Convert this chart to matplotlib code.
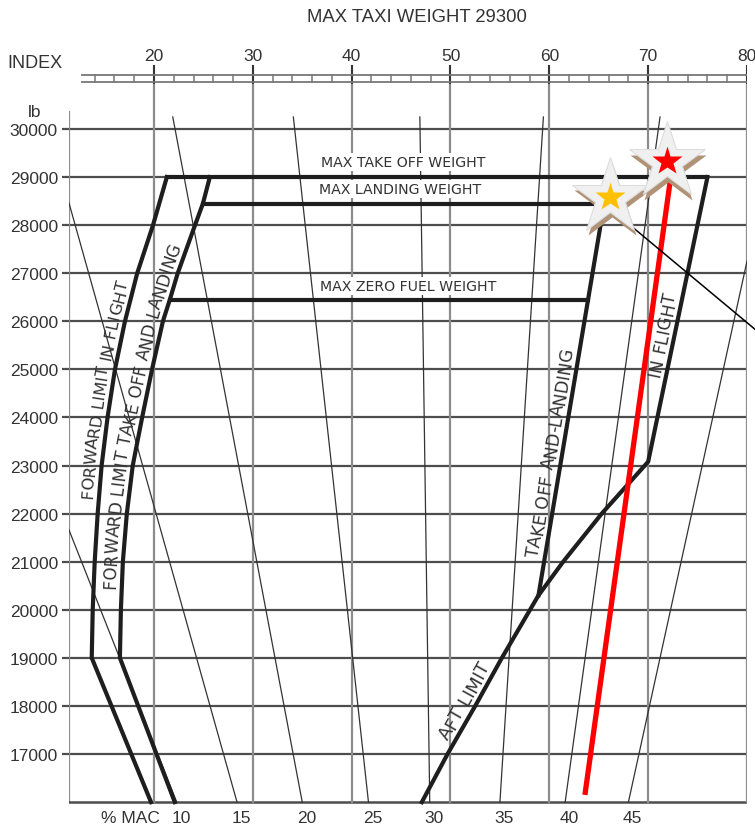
import numpy as np
import matplotlib.pyplot as plt
from matplotlib.font_manager import FontProperties, findfont, get_font

# weight grid (lb) and index grid
weight_ticks = list(range(17000, 30001, 1000))
index_ticks = [20, 30, 40, 50, 60, 70, 80]
ruler_ticks = list(range(14, 80, 2))

# constant %MAC lines, end points as (index, weight)
mac_pct = [10, 15, 20, 25, 30, 35, 40, 45]
mac_top_idx = [11.4, 11.4, 21.9, 34.1, 46.9, 59.4, 71.2, 80.0]
mac_top_wt = [21660, 28460, 30250, 30250, 30250, 30250, 30250, 27250]
mac_bot_idx = [22.3, 28.4, 35.0, 41.7, 47.9, 55.0, 61.6, 68.0]
mac_bot_wt = [16000] * 8

# forward limits
fwd_flight_wt = [16000, 19000, 20000, 21000, 22000, 23000, 24000, 25000, 26000, 27000, 28000, 29000]
fwd_flight_idx = [19.7, 13.7, 13.8, 14.0, 14.3, 14.7, 15.3, 16.05, 17.06, 18.3, 19.9, 21.3]
fwd_tol_wt = [16000, 19000, 20000, 21000, 22000, 23000, 24000, 25000, 26000, 26450, 27000, 28000, 28450, 29000]
fwd_tol_idx = [22.1, 16.55, 16.65, 16.85, 17.25, 17.85, 18.8, 19.8, 20.9, 21.6, 22.4, 24.15, 24.95, 25.65]

# aft limits
aft_flight_wt = [29000, 23080, 22000, 21000, 20300, 19000, 18000, 17000, 16000]
aft_flight_idx = [76.0, 70.0, 65.3, 61.4, 58.9, 55.2, 52.5, 49.7, 47.1]
aft_tol_wt = [28450, 20300]
aft_tol_idx = [65.55, 58.9]

mtow = 29000
mlw = 28450
mzfw = 26450

# loading line and points
load_idx = [63.6, 72.4]
load_wt = [16150, 29170]
taxi_pt = (71.9, 29330)
landing_pt = (66.15, 28590)

fig = plt.figure(figsize=(7.55, 8.29), dpi=100)
ax = fig.add_axes([69 / 755, 0, 678 / 755, 1])
ax.set_xlim(11.4, 80.0)
ax.set_ylim(15462, 32704)
for s in ax.spines.values():
    s.set_visible(False)

num_font = 'Liberation Sans'
lab_font = 'DejaVu Sans'
txt_col = '#333333'


def curved_label(xs, ys, text, center_wt, size, gap=6.5, lo=None):
    """Write text letter by letter along a limit line, baseline on its left side."""
    pts = ax.transData.transform(np.column_stack([xs, ys]))
    pts = pts[np.argsort(pts[:, 1])]
    if lo is not None:
        pts = pts[pts[:, 1] >= ax.transData.transform((0, lo))[1] - 0.1]
    seg = np.diff(pts, axis=0)
    arc = np.concatenate([[0], np.cumsum(np.hypot(seg[:, 0], seg[:, 1]))])

    def at(sv):
        return np.array([np.interp(sv, arc, pts[:, 0]), np.interp(sv, arc, pts[:, 1])])

    cy = ax.transData.transform((0, center_wt))[1]
    sc = np.interp(cy, pts[:, 1], arc)
    fp = FontProperties(family=lab_font, size=size)
    font = get_font(findfont(fp))
    font.set_size(size, fig.dpi)
    adv = [font.load_char(ord(ch)).linearHoriAdvance / 65536 for ch in text]
    pen = sc - sum(adv) / 2
    inv = ax.transData.inverted()
    for ch, a in zip(text, adv):
        sm = pen + a / 2
        d = at(sm + 8) - at(sm - 8)
        d = d / np.hypot(*d)
        q = at(sm) + np.array([-d[1], d[0]]) * gap
        ax.text(*inv.transform(q), ch, rotation=np.degrees(np.arctan2(d[1], d[0])),
                rotation_mode='anchor', ha='center', va='baseline',
                fontproperties=fp, color=txt_col, zorder=4)
        pen += a


# horizontal grid
for w in weight_ticks:
    ax.plot([11.4, 80.0], [w, w], color='#4d4d4d', lw=1.6, zorder=1)
ax.set_xticks([])
ax.set_yticks(weight_ticks)
ax.set_yticklabels([str(w) for w in weight_ticks], fontfamily=num_font, fontsize=12.5, color=txt_col)
ax.tick_params(axis='y', length=5, width=1.6, color='#4d4d4d', pad=3)

# frame
ax.plot([11.4, 11.4], [16000, 30350], color='#8c8c8c', lw=1.6, zorder=1)
ax.plot([11.4, 80.0], [16000, 16000], color='#4d4d4d', lw=1.8, zorder=1)

# index lines and ruler
for i in index_ticks:
    ax.plot([i, i], [16000, 31310], color='#8c8c8c', lw=1.6, zorder=1)
    ax.plot([i, i], [30950, 31310], color=txt_col, lw=1.4, zorder=1)
    ax.text(i, 31520, str(i), ha='center', va='center', fontfamily=num_font, fontsize=12.5, color=txt_col)
for wr in [31123, 30978]:
    ax.plot([12.7, 80.4], [wr, wr], color='#777777', lw=1.3, zorder=1)
for r in ruler_ticks:
    if r % 10:
        ax.plot([r, r], [30978, 31123], color='#777777', lw=1.1, zorder=1)

ax.text(7.95, 31390, 'INDEX', ha='center', va='center', fontfamily=num_font, fontsize=13, color=txt_col, clip_on=False)
ax.text(7.95, 30370, 'lb', ha='center', va='center', fontfamily=num_font, fontsize=12.5, color=txt_col, clip_on=False)
ax.text(46.6, 32330, 'MAX TAXI WEIGHT 29300', ha='center', va='center', fontfamily=num_font, fontsize=13.3, color=txt_col)

# %MAC lines
for p, ti, tw, bi, bw in zip(mac_pct, mac_top_idx, mac_top_wt, mac_bot_idx, mac_bot_wt):
    ax.plot([ti, bi], [tw, bw], color='#333333', lw=0.9, zorder=2)
    ax.annotate(str(p), (bi, 15690), xytext=(3, 0), textcoords='offset points', ha='center', va='center',
                fontfamily=num_font, fontsize=12.5, color=txt_col)
ax.text(17.6, 15690, '% MAC', ha='center', va='center', fontfamily=num_font, fontsize=12.5, color=txt_col)

# envelope
env = dict(color='#1e1e1e', lw=3, zorder=3, solid_joinstyle='miter')
ax.plot(fwd_flight_idx, fwd_flight_wt, **env)
ax.plot(fwd_tol_idx, fwd_tol_wt, **env)
ax.plot(aft_flight_idx, aft_flight_wt, **env)
ax.plot(aft_tol_idx, aft_tol_wt, **env)
ax.plot([fwd_flight_idx[-1], aft_flight_idx[0]], [mtow, mtow], **env)
ax.plot([np.interp(mlw, fwd_tol_wt, fwd_tol_idx), aft_tol_idx[0]], [mlw, mlw], **env)
mzfw_aft = np.interp(mzfw, aft_tol_wt[::-1], aft_tol_idx[::-1])
ax.plot([np.interp(mzfw, fwd_tol_wt, fwd_tol_idx), mzfw_aft], [mzfw, mzfw], **env)

box = dict(facecolor='white', edgecolor='none', pad=1.5)
lab = dict(ha='center', va='center', fontfamily=lab_font, fontsize=10.2, color=txt_col, zorder=4)
ax.text(45.25, 29314, 'MAX TAKE OFF WEIGHT', bbox=box, **lab)
ax.text(44.95, 28752, 'MAX LANDING WEIGHT', bbox=box, **lab)
ax.text(45.75, 26735, 'MAX ZERO FUEL WEIGHT', bbox=box, **lab)

# labels along the limit lines
curved_label(fwd_flight_idx, fwd_flight_wt, 'FORWARD LIMIT IN FLIGHT', 24570, 11.8, lo=19000)
curved_label(fwd_tol_idx, fwd_tol_wt, 'FORWARD LIMIT TAKE OFF AND LANDING', 24050, 12.2, lo=19000)
curved_label(aft_tol_idx, aft_tol_wt, 'TAKE OFF AND-LANDING', 23250, 12.4)
curved_label(aft_flight_idx[:2], aft_flight_wt[:2], 'IN FLIGHT', 25690, 12.4)
curved_label(aft_flight_idx[2:], aft_flight_wt[2:], 'AFT LIMIT', 18000, 13.0)

# loading line
ax.plot(load_idx, load_wt, color='#ff0000', lw=3.8, zorder=5, solid_capstyle='butt')

# pointer line from the landing point
ax.plot([landing_pt[0] + 0.45, 82.0], [landing_pt[1] - 320, 25630], color='black', lw=1.1, zorder=5, clip_on=False)

# star markers
for (px, py), c in [(landing_pt, '#ffc000'), (taxi_pt, '#ff0000')]:
    ax.plot(px + 0.15, py - 110, marker='*', ms=58, color='#b09276', mec='none', zorder=6)
    ax.plot(px, py, marker='*', ms=58, color='#f0f0f0', mec='#dddddd', mew=0.8, zorder=7)
    ax.plot(px, py, marker='*', ms=22, color=c, mec='none', zorder=8)

fig.savefig('out.png', dpi=100)
